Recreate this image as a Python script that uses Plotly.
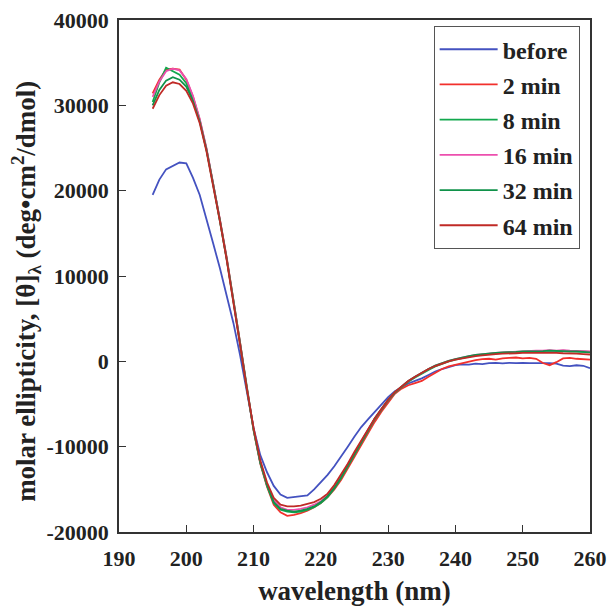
import plotly.graph_objects as go

# wavelength grid (nm)
wavelength = list(range(195, 261))

before = [19500, 21300, 22500, 22900, 23300, 23200, 21500, 19500, 16800, 13800,
          10900, 7800, 4500, 700, -3800, -7800, -11000, -13000, -14600, -15600,
          -16000, -15900, -15800, -15700, -15000, -14200, -13300, -12300, -11200, -10000,
          -8800, -7700, -6800, -5900, -5000, -4200, -3500, -3000, -2600, -2300,
          -2000, -1600, -1200, -900, -650, -450, -350, -380, -280, -320,
          -220, -180, -230, -170, -220, -170, -220, -260, -220, -210,
          -260, -500, -560, -460, -520, -800]

min2 = [31400, 33000, 34200, 34300, 34200, 33000, 31000, 28300, 24900, 20900,
        16600, 12200, 7400, 2200, -3100, -8100, -12000, -14700,
        -16800, -17700, -18100, -18000, -17800, -17500, -17100, -16600, -15900, -15000,
        -13900, -12600, -11200, -9800, -8400, -7100, -5900, -4800,
        -3800, -3200, -2800, -2550, -2300, -1800, -1300, -900, -600, -400,
        -200, 0, 150, 250, 300, 200, 350, 400, 450, 350,
        400, 300, -200, -450, -100, 350, 400, 300, 250, 200]

min8 = [30400, 32700, 34400, 34000, 33600, 32600, 30700, 28200, 24800, 20800,
        16500, 12000, 7200, 2000, -3200, -8000, -11900, -14600,
        -16600, -17400, -17600, -17700, -17600, -17400, -17100, -16600, -15900, -14900,
        -13700, -12300, -10900, -9500, -8100, -6800, -5700, -4600,
        -3700, -3000, -2400, -1900, -1400, -1000, -600, -300, 0, 200,
        400, 550, 700, 800, 900, 950, 1000, 1050, 1050, 1100,
        1150, 1150, 1200, 1250, 1200, 1250, 1200, 1200, 1150, 1100]

min16 = [31000, 32800, 34000, 34300, 34100, 33100, 31100, 28400, 25000, 20900,
         16600, 12100, 7300, 2100, -3100, -7900, -11800, -14400,
         -16300, -17100, -17400, -17400, -17300, -17100, -16800, -16400, -15700, -14700,
         -13500, -12100, -10700, -9300, -8000, -6700, -5600, -4500,
         -3600, -2900, -2300, -1800, -1300, -900, -500, -200, 50, 250,
         450, 600, 750, 850, 950, 1000, 1050, 1100, 1150, 1150,
         1200, 1250, 1250, 1300, 1250, 1300, 1250, 1250, 1200, 1150]

min32 = [30000, 31800, 32900, 33300, 33000, 32200, 30500, 28100, 24800, 20800,
         16500, 12000, 7200, 2000, -3200, -8000, -11900, -14500,
         -16500, -17300, -17500, -17600, -17500, -17300, -17000, -16500, -15800, -14800,
         -13600, -12200, -10800, -9400, -8000, -6700, -5600, -4500,
         -3600, -2900, -2300, -1800, -1300, -900, -500, -200, 50, 250,
         450, 600, 750, 850, 950, 1000, 1050, 1050, 1100, 1150,
         1150, 1200, 1200, 1250, 1200, 1200, 1150, 1150, 1100, 1050]

min64 = [29600, 31200, 32300, 32700, 32500, 31700, 30200, 27900, 24600, 20700,
         16400, 11900, 7100, 1900, -3200, -7800, -11600, -14200,
         -16000, -16800, -17000, -17000, -16900, -16700, -16500, -16100, -15500, -14500,
         -13300, -12000, -10600, -9300, -7900, -6700, -5600, -4500,
         -3600, -2900, -2300, -1800, -1300, -900, -550, -250, 0, 200,
         350, 500, 600, 700, 800, 850, 900, 900, 950, 1000,
         1000, 1050, 1000, 1050, 1000, 950, 950, 900, 850, 800]

series = [
    ('before', before, '#4452c0'),
    ('2 min', min2, '#f2302c'),
    ('8 min', min8, '#12a84e'),
    ('16 min', min16, '#ec4fae'),
    ('32 min', min32, '#10924a'),
    ('64 min', min64, '#c02a26'),
]

x_ticks = [190, 200, 210, 220, 230, 240, 250, 260]
y_ticks = [-20000, -10000, 0, 10000, 20000, 30000, 40000]
y_ticklabels = ['-20000', '-10000', '0', '10000', '20000', '30000', '40000']

fig = go.Figure()
for i, (name, vals, color) in enumerate(series):
    fig.add_trace(go.Scatter(
        x=wavelength, y=vals, mode='lines', name=name,
        legendgroup=str(i),
        line=dict(color=color, width=1.8)
    ))

font_family = 'Liberation Serif'
# the page body has an 8px margin, so the figure is a bit smaller than the window
fig.update_layout(
    width=608, height=598,
    margin=dict(l=111, r=26, t=12, b=74),
    plot_bgcolor='white', paper_bgcolor='white',
    font=dict(family=font_family, size=22, color='#222'),
    legend=dict(
        x=0.978, y=0.988, xanchor='right', yanchor='top',
        bordercolor='#555', borderwidth=1, bgcolor='white',
        font=dict(family=font_family, size=24, color='#222', weight='bold'),
        tracegroupgap=1, itemwidth=58,
    ),
    showlegend=True,
)
fig.update_xaxes(
    range=[190, 260], tickvals=x_ticks, ticks='inside', ticklen=7,
    tickcolor='#333', ticklabelstandoff=6, automargin=False,
    ticklabeloverflow='allow',
    showline=True, linecolor='#333', linewidth=1.5, mirror=True,
    showgrid=False, zeroline=False,
    tickfont=dict(family=font_family, size=22, weight='bold'),
    title=dict(text='<b>wavelength (nm)</b>', standoff=17,
               font=dict(family=font_family, size=27)),
)
fig.update_yaxes(
    range=[-20000, 40000], tickvals=y_ticks, ticktext=y_ticklabels,
    ticks='inside', ticklen=7, tickcolor='#333', ticklabelstandoff=4,
    automargin=False, ticklabeloverflow='allow',
    showline=True, linecolor='#333', linewidth=1.5, mirror=True,
    showgrid=False, zeroline=False,
    tickfont=dict(family=font_family, size=22, weight='bold'),
)
fig.add_annotation(
    text='<b>molar ellipticity, [θ]<sub>λ</sub> (deg•cm<sup>2</sup>/dmol)</b>',
    xref='paper', yref='paper', x=0, y=0.469, xshift=-93,
    xanchor='center', yanchor='middle', textangle=-90, showarrow=False,
    font=dict(family=font_family, size=27, color='#222'),
)

fig.write_html('out.html')
